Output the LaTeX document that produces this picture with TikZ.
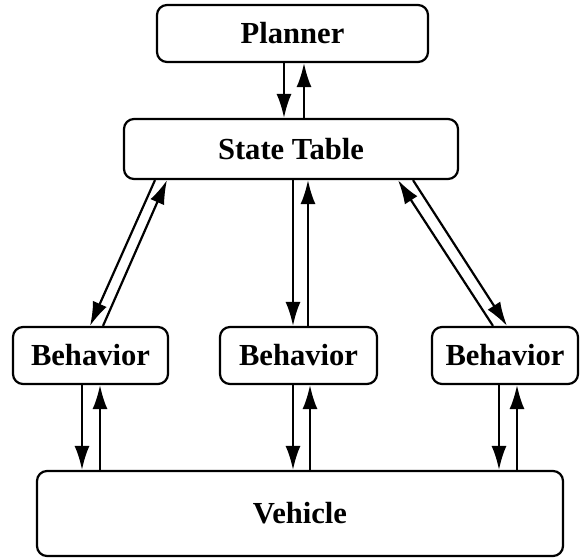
\documentclass[tikz,border=0pt]{standalone}
\usepackage{fontspec}
\setmainfont{Liberation Serif}
\usetikzlibrary{arrows.meta}
\begin{document}
\begin{tikzpicture}[x=0.5pt,y=-0.5pt,
  block/.style={draw, line width=1.1pt, rounded corners=5pt, inner sep=0pt,
    font=\fontsize{15.3pt}{18pt}\selectfont\bfseries},
  arr/.style={line width=1.1pt, -{Latex[length=12pt,width=7.5pt]}}]
\useasboundingbox (0,0) rectangle (580,558);

% boxes
\node[block, minimum width=135.5pt, minimum height=28.5pt] (plan) at (292.5,33.5) {Planner};
\node[block, minimum width=167pt, minimum height=30pt] (st) at (291,149) {State Table};
\node[block, minimum width=77.5pt, minimum height=28.5pt] (b1) at (90.5,355.5) {Behavior};
\node[block, minimum width=78.5pt, minimum height=28.5pt] (b2) at (298.5,355.5) {Behavior};
\node[block, minimum width=73pt, minimum height=28.5pt] (b3) at (505,355.5) {Behavior};
\node[block, minimum width=263pt, minimum height=42.5pt] (veh) at (300,513.5) {Vehicle};

% planner <-> state table
\draw[arr] (plan.south -| 284,0) -- (st.north -| 284,0);
\draw[arr] (st.north -| 304,0) -- (plan.south -| 304,0);

% state table <-> behaviors
\draw[arr] (st.south -| 155,0) -- (b1.north -| 90,0);
\draw[arr] (b1.north -| 103,0) -- (st.south -| 167,0);
\draw[arr] (st.south -| 293,0) -- (b2.north -| 293,0);
\draw[arr] (b2.north -| 308,0) -- (st.south -| 308,0);
\draw[arr] (b3.north -| 493,0) -- (st.south -| 398,0);
\draw[arr] (st.south -| 413,0) -- (b3.north -| 507,0);

% behaviors <-> vehicle
\draw[arr] (b1.south -| 82,0) -- (veh.north -| 82,0);
\draw[arr] (veh.north -| 100,0) -- (b1.south -| 100,0);
\draw[arr] (b2.south -| 293,0) -- (veh.north -| 293,0);
\draw[arr] (veh.north -| 310,0) -- (b2.south -| 310,0);
\draw[arr] (b3.south -| 499,0) -- (veh.north -| 499,0);
\draw[arr] (veh.north -| 517,0) -- (b3.south -| 517,0);
\end{tikzpicture}
\end{document}
